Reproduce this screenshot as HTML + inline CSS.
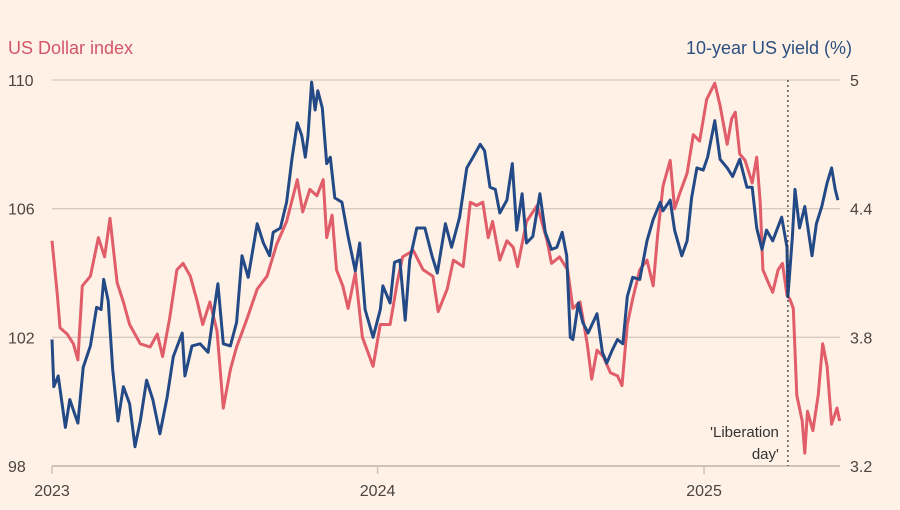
<!DOCTYPE html>
<html><head><meta charset="utf-8"><style>
body{margin:0;background:#fff1e5;}
svg{display:block;font-family:"Liberation Sans",sans-serif;}
</style></head><body>
<svg id="chart" width="900" height="510">
<rect width="900" height="510" fill="#fff1e5"/>
<text x="8" y="54" font-size="18" fill="#d2566a">US Dollar index</text>
<text x="852" y="54" font-size="18" fill="#2b4f80" text-anchor="end">10-year US yield (%)</text>
<g id="grid"></g>
<g id="series"></g>
<g id="annot"></g>
</svg>
<script>
const dxyDays=[0,6,9,17,24,29,34,43,52,59,65,73,80,87,99,110,118,124,132,140,147,155,163,169,177,185,192,200,207,219,230,241,252,263,275,281,289,297,304,308,314,319,326,332,340,348,360,368,379,387,393,405,416,427,433,443,450,461,469,476,483,489,494,502,510,517,522,532,544,555,560,569,578,584,592,600,605,611,618,626,634,639,645,651,659,667,674,679,685,693,698,704,712,719,726,734,743,749,757,762,766,771,777,785,790,794,797,803,808,814,819,824,827,831,835,841,844,847,853,859,864,869,874,880,883];
const dxyValues=[105.0,103.3,102.3,102.1,101.8,101.3,103.6,103.9,105.1,104.5,105.7,103.7,103.1,102.4,101.8,101.7,102.1,101.4,102.6,104.1,104.3,103.9,103.1,102.4,103.1,102.2,99.8,101.0,101.7,102.6,103.5,103.9,104.9,105.6,106.9,105.9,106.6,106.4,106.9,105.1,105.8,104.1,103.6,102.9,104.0,102.0,101.1,102.4,102.4,103.7,104.5,104.7,104.1,103.9,102.8,103.5,104.4,104.2,106.2,106.1,106.2,105.1,105.6,104.4,105.0,104.8,104.2,105.6,106.1,105.0,104.3,104.5,104.1,102.9,103.1,101.8,100.7,101.6,101.4,100.9,100.8,100.5,102.4,103.2,104.1,104.4,103.6,105.2,106.7,107.5,106.0,106.5,107.1,108.3,108.1,109.4,109.9,109.2,108.0,108.8,109.0,107.7,107.5,106.8,107.6,106.2,104.1,103.7,103.4,104.1,104.3,103.3,103.2,102.9,100.2,99.4,98.4,99.7,99.1,100.2,101.8,101.1,99.3,99.8,99.4];
const yieldDays=[0,2,7,15,20,24,29,35,43,50,55,58,63,68,74,80,87,93,99,106,113,121,129,136,146,149,157,166,175,179,186,192,200,207,213,220,230,237,244,248,256,263,269,275,280,284,287,291,295,298,303,308,312,317,325,332,340,345,351,360,368,371,379,384,390,396,401,409,418,426,432,441,448,457,465,472,480,485,491,497,502,510,516,521,527,532,539,547,553,560,566,572,577,581,584,590,595,601,611,617,622,628,634,640,645,651,659,667,674,682,685,693,698,706,712,717,723,730,735,743,749,757,763,771,779,785,790,796,801,808,818,824,825,830,833,838,844,852,857,863,869,874,878,881];
const yieldValues=[3.79,3.57,3.62,3.38,3.51,3.46,3.40,3.66,3.76,3.94,3.93,4.07,3.97,3.65,3.41,3.57,3.49,3.29,3.41,3.60,3.51,3.35,3.52,3.71,3.82,3.62,3.76,3.77,3.73,3.85,4.05,3.77,3.76,3.87,4.18,4.08,4.33,4.24,4.18,4.29,4.31,4.43,4.63,4.80,4.74,4.64,4.74,4.99,4.86,4.95,4.87,4.61,4.64,4.45,4.43,4.27,4.11,4.24,3.93,3.80,3.93,4.04,3.96,4.15,4.16,3.88,4.16,4.31,4.31,4.18,4.10,4.33,4.22,4.36,4.59,4.64,4.70,4.67,4.50,4.49,4.38,4.44,4.61,4.30,4.47,4.24,4.27,4.47,4.29,4.21,4.22,4.29,4.18,3.80,3.79,3.96,3.87,3.82,3.91,3.73,3.68,3.74,3.79,3.77,3.99,4.08,4.07,4.25,4.35,4.43,4.39,4.44,4.30,4.18,4.25,4.45,4.59,4.58,4.64,4.81,4.63,4.59,4.55,4.63,4.50,4.50,4.31,4.21,4.30,4.25,4.36,4.22,3.99,4.27,4.49,4.31,4.41,4.18,4.33,4.41,4.52,4.59,4.49,4.44];
const leftTicks=[110,106,102,98];
const rightTicks=["5","4.4","3.8","3.2"];
const yearLabels=["2023","2024","2025"];
const yearDays=[0,365,731];
const liberationDay=825;

const NS="http://www.w3.org/2000/svg";
const X0=52,X1=840,YT=80,YB=466;
const xS=d=>X0+d*0.892;
const yL=v=>YB-(v-98)/12*(YB-YT);
const yR=v=>YB-(v-3.2)/1.8*(YB-YT);
function mk(tag,attrs,parent){const e=document.createElementNS(NS,tag);for(const k in attrs)e.setAttribute(k,attrs[k]);parent.appendChild(e);return e;}
const grid=document.getElementById('grid'),series=document.getElementById('series'),annot=document.getElementById('annot');
leftTicks.forEach((t,i)=>{
  const y=yL(t);
  const ln=mk('line',{x1:X0,x2:X1,y1:y,y2:y,stroke:i===3?'#cfc2b6':'#d6cbc1','stroke-width':i===3?2:1.3},grid);
  
  
  const tl=mk('text',{x:8,y:y+6,'font-size':16,fill:'#4a4541'},grid);tl.textContent=t;
  
  
  const tr=mk('text',{x:850,y:y+6,'font-size':16,fill:'#4a4541'},grid);tr.textContent=rightTicks[i];
  
  
});
yearLabels.forEach((l,i)=>{
  const x=xS(yearDays[i]);
  const tk=mk('line',{x1:x,x2:x,y1:YB,y2:YB+8,stroke:'#cfc2b6','stroke-width':1.5},grid);
  
  
  const tx=mk('text',{x:x,y:YB+30,'font-size':16,fill:'#4a4541','text-anchor':'middle'},grid);tx.textContent=l;
  
  
});
function path(days,vals,ys){return days.map((d,i)=>(i?'L':'M')+xS(d).toFixed(1)+','+ys(vals[i]).toFixed(1)).join('');}
const pr=mk('path',{d:path(dxyDays,dxyValues,yL),fill:'none',stroke:'#e05d69','stroke-width':3,'stroke-linejoin':'round'},series);


const pb=mk('path',{d:path(yieldDays,yieldValues,yR),fill:'none',stroke:'#234a86','stroke-width':3,'stroke-linejoin':'round'},series);


const lx=xS(liberationDay);
const dl=mk('line',{x1:lx,x2:lx,y1:YT,y2:YB,stroke:'#333','stroke-width':1.2,'stroke-dasharray':'2,3'},annot);


const a1=mk('text',{x:lx-9,y:437,'font-size':15,fill:'#333','text-anchor':'end'},annot);a1.textContent="'Liberation";


const a2=mk('text',{x:lx-9,y:459,'font-size':15,fill:'#333','text-anchor':'end'},annot);a2.textContent="day'";


</script>
</body></html>
